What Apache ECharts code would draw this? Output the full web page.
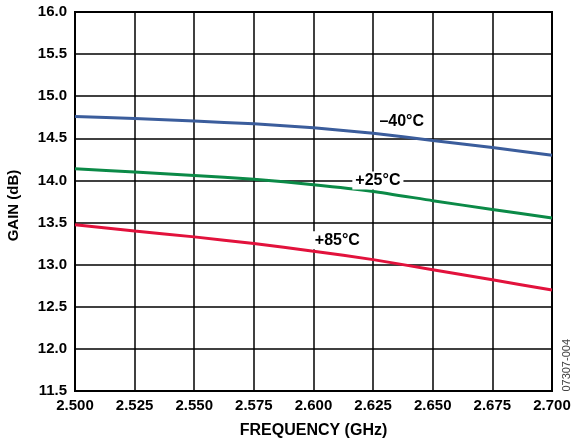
<!DOCTYPE html>
<html>
<head>
<meta charset="utf-8">
<script src="https://cdn.jsdelivr.net/npm/echarts@6/dist/echarts.min.js"></script>
<style>
    html, body { margin: 0; padding: 0; background: #fff; }
    #chart { width: 573px; height: 443px; }
</style>
</head>
<body>
<div id="chart"></div>
<script>
// frequency in GHz
const freq = [2.500, 2.525, 2.550, 2.575, 2.600, 2.625, 2.650, 2.675, 2.700]
// gain in dB for each temperature
const gainM40 = [14.76, 14.735, 14.705, 14.672, 14.625, 14.56, 14.475, 14.39, 14.30]
const gainP25 = [14.14, 14.10, 14.06, 14.015, 13.95, 13.87, 13.76, 13.655, 13.555]
const gainP85 = [13.475, 13.40, 13.33, 13.25, 13.16, 13.06, 12.94, 12.82, 12.70]
const tempNames = ['–40°C', '+25°C', '+85°C']
// where the temperature labels sit, [freq, gain]
const labelPos = [[2.637, 14.70], [2.627, 14.0], [2.610, 13.29]]

const font = 'Arial, "Liberation Sans", Helvetica, sans-serif'
const chart = echarts.init(document.getElementById('chart'))

function pairs(vals) {
    return freq.map((f, i) => [f, vals[i]])
}

function line(name, vals, color, pos) {
    return {
        name: name,
        type: 'line',
        data: pairs(vals),
        smooth: 0.2,
        symbol: 'none',
        lineStyle: { color: color, width: 3 },
        markPoint: {
            symbol: 'circle',
            symbolSize: 0,
            data: [{ coord: pos }],
            label: {
                show: true,
                position: 'inside',
                formatter: name,
                color: '#000',
                fontFamily: font,
                fontWeight: 'bold',
                fontSize: 16,
                backgroundColor: '#fff',
                padding: [1, 3]
            }
        },
        z: 3
    }
}

const option = {
    animation: false,
    backgroundColor: '#fff',
    grid: {
        left: 75, right: 21, top: 12, bottom: 52,
        outerBoundsMode: 'none',
        show: true, borderColor: '#000', borderWidth: 2, backgroundColor: 'transparent'
    },
    xAxis: {
        type: 'value',
        min: 2.5,
        max: 2.7,
        interval: 0.025,
        name: 'FREQUENCY (GHz)',
        nameLocation: 'middle',
        nameGap: 32,
        nameTextStyle: { color: '#000', fontFamily: font, fontWeight: 'bold', fontSize: 16 },
        axisLine: { show: false },
        axisTick: { show: false },
        axisLabel: { color: '#000', fontFamily: font, fontWeight: 'bold', fontSize: 15, margin: 7, formatter: v => v.toFixed(3) },
        splitLine: { show: true, lineStyle: { color: '#000', width: 1.5 } }
    },
    yAxis: {
        type: 'value',
        min: 11.5,
        max: 16,
        interval: 0.5,
        name: 'GAIN (dB)',
        nameLocation: 'middle',
        nameGap: 54,
        nameTextStyle: { color: '#000', fontFamily: font, fontWeight: 'bold', fontSize: 15, padding: [0, 0, 0, -8] },
        axisLine: { show: false },
        axisTick: { show: false },
        axisLabel: { color: '#000', fontFamily: font, fontWeight: 'bold', fontSize: 15, margin: 8, formatter: v => v.toFixed(1) },
        splitLine: { show: true, lineStyle: { color: '#000', width: 1.5 } }
    },
    graphic: [{
        type: 'text',
        left: 561,
        top: 339,
        rotation: Math.PI / 2,
        style: { text: '07307-004', fill: '#444', font: '11px Arial, "Liberation Sans", sans-serif' }
    }],
    series: [
        line(tempNames[0], gainM40, '#3b5d9c', labelPos[0]),
        line(tempNames[1], gainP25, '#0b8a47', labelPos[1]),
        line(tempNames[2], gainP85, '#e2123c', labelPos[2])
    ]
}
chart.setOption(option)
</script>
</body>
</html>
